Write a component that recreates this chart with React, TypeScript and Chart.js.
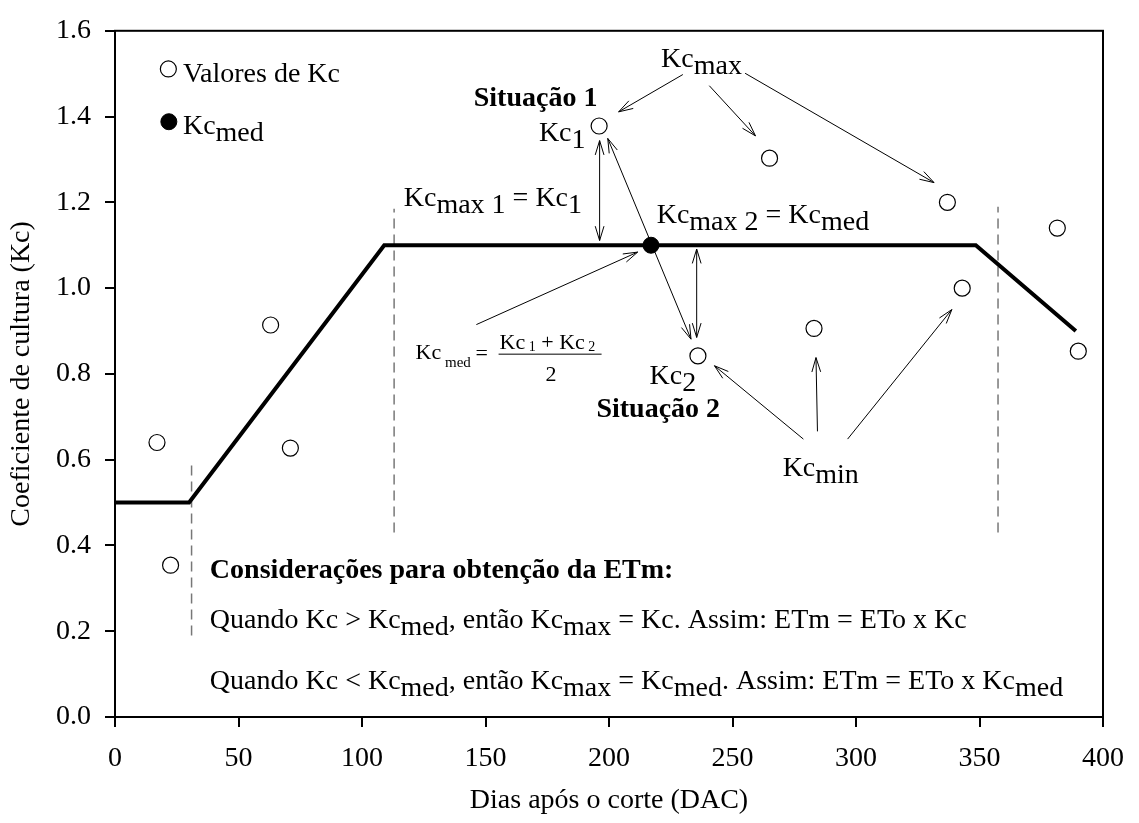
import React, { useEffect, useRef } from "react";
import { Chart, registerables } from "chart.js";

Chart.register(...registerables);

// ---------- data ----------
const kcDays = [17, 22.5, 63, 71, 196, 236, 265, 283, 337, 343, 381.5, 390];
const kcValues = [0.64, 0.354, 0.914, 0.627, 1.378, 0.842, 1.303, 0.906, 1.2, 1.0, 1.14, 0.853];
const kcMedDays = [217];
const kcMedValues = [1.1];
const curveDays = [0, 30, 109, 348.5, 389];
const curveKc = [0.5, 0.5, 1.1, 1.1, 0.9];
const stageDays = [31, 113, 357.5];
const stageLow = [0.19, 0.43, 0.43];
const stageHigh = [0.59, 1.185, 1.19];
const legendDays = [21.6, 21.8];
const legendKc = [1.511, 1.388];
const xMin = 0;
const xMax = 400;
const xStep = 50;
const yMin = 0;
const yMax = 1.6;
const yStep = 0.2;

const FONT = "'Liberation Serif', 'Times New Roman', Times, serif";

type Run = { t: string; sub?: boolean; bold?: boolean };
type Label = { x: number; y: number; align: "left" | "right"; runs: Run[] };

const labels: Label[] = [
  { x: 27.5, y: 1.48, align: "left", runs: [{ t: "Valores de Kc" }] },
  { x: 27.5, y: 1.36, align: "left", runs: [{ t: "Kc" }, { t: "med", sub: true }] },
  { x: 195.3, y: 1.425, align: "right", runs: [{ t: "Situação 1", bold: true }] },
  { x: 190.5, y: 1.342, align: "right", runs: [{ t: "Kc" }, { t: "1", sub: true }] },
  { x: 116.9, y: 1.192, align: "left", runs: [{ t: "Kc" }, { t: "max 1", sub: true }, { t: " = Kc" }, { t: "1", sub: true }] },
  { x: 219.3, y: 1.153, align: "left", runs: [{ t: "Kc" }, { t: "max 2", sub: true }, { t: " = Kc" }, { t: "med", sub: true }] },
  { x: 221.1, y: 1.515, align: "left", runs: [{ t: "Kc" }, { t: "max", sub: true }] },
  { x: 216.4, y: 0.777, align: "left", runs: [{ t: "Kc" }, { t: "2", sub: true }] },
  { x: 194.9, y: 0.699, align: "left", runs: [{ t: "Situação 2", bold: true }] },
  { x: 270.3, y: 0.5625, align: "left", runs: [{ t: "Kc" }, { t: "min", sub: true }] },
  { x: 38.4, y: 0.323, align: "left", runs: [{ t: "Considerações para obtenção da ETm:", bold: true }] },
  {
    x: 38.4, y: 0.2075, align: "left",
    runs: [{ t: "Quando Kc > Kc" }, { t: "med", sub: true }, { t: ", então Kc" }, { t: "max", sub: true }, { t: " = Kc. Assim: ETm = ETo x Kc" }],
  },
  {
    x: 38.4, y: 0.0646, align: "left",
    runs: [
      { t: "Quando Kc < Kc" }, { t: "med", sub: true }, { t: ", então Kc" }, { t: "max", sub: true },
      { t: " = Kc" }, { t: "med", sub: true }, { t: ". Assim: ETm = ETo x Kc" }, { t: "med", sub: true },
    ],
  },
];

const arrows = [
  { x1: 229.9, y1: 1.498, x2: 203.9, y2: 1.411, both: false },
  { x1: 240.6, y1: 1.472, x2: 259.3, y2: 1.355, both: false },
  { x1: 255.1, y1: 1.501, x2: 331.6, y2: 1.246, both: false },
  { x1: 196.2, y1: 1.344, x2: 196.2, y2: 1.111, both: true },
  { x1: 199.5, y1: 1.349, x2: 233.2, y2: 0.881, both: true },
  { x1: 146.3, y1: 0.915, x2: 211.6, y2: 1.084, both: false },
  { x1: 235.5, y1: 1.091, x2: 235.5, y2: 0.885, both: true },
  { x1: 278.7, y1: 0.648, x2: 242.7, y2: 0.819, both: false },
  { x1: 284.4, y1: 0.666, x2: 283.8, y2: 0.838, both: false },
  { x1: 296.6, y1: 0.648, x2: 338.8, y2: 0.95, both: false },
];

const formulaAnchor = { x: 155.3, y: 0.846 };

const ANN_SIZE = 28;
const TICK_SIZE = 28;
const TITLE_SIZE = 28;

function drawRuns(ctx: CanvasRenderingContext2D, runs: Run[], x: number, y: number, align: "left" | "right", size: number, subSize?: number, subDy?: number) {
  const widths = runs.map((r) => {
    const s = r.sub && subSize ? subSize : size;
    ctx.font = `${r.bold ? "bold " : ""}${s}px ${FONT}`;
    return ctx.measureText(r.t).width;
  });
  const total = widths.reduce((a, b) => a + b, 0);
  let cx = align === "right" ? x - total : x;
  ctx.textAlign = "left";
  ctx.textBaseline = "alphabetic";
  runs.forEach((r, i) => {
    const s = r.sub && subSize ? subSize : size;
    ctx.font = `${r.bold ? "bold " : ""}${s}px ${FONT}`;
    ctx.fillText(r.t, cx, y + (r.sub ? (subDy ?? 7) : 0));
    cx += widths[i];
  });
}

function arrowHead(ctx: CanvasRenderingContext2D, tx: number, ty: number, fx: number, fy: number) {
  const ang = Math.atan2(ty - fy, tx - fx);
  const len = 15;
  const spread = (17 * Math.PI) / 180;
  ctx.beginPath();
  ctx.moveTo(tx - len * Math.cos(ang - spread), ty - len * Math.sin(ang - spread));
  ctx.lineTo(tx, ty);
  ctx.lineTo(tx - len * Math.cos(ang + spread), ty - len * Math.sin(ang + spread));
  ctx.stroke();
}

const annotationPlugin = {
  id: "annotations",
  afterDatasetsDraw(chart: any) {
    const { ctx, chartArea, scales } = chart;
    const xs = scales.x;
    const ys = scales.y;
    ctx.save();
    // frame
    ctx.strokeStyle = "#000";
    ctx.lineWidth = 2;
    ctx.strokeRect(chartArea.left, chartArea.top, chartArea.right - chartArea.left, chartArea.bottom - chartArea.top);

    // arrows
    ctx.lineWidth = 1;
    ctx.strokeStyle = "#000";
    arrows.forEach((a) => {
      const x1 = xs.getPixelForValue(a.x1);
      const y1 = ys.getPixelForValue(a.y1);
      const x2 = xs.getPixelForValue(a.x2);
      const y2 = ys.getPixelForValue(a.y2);
      ctx.beginPath();
      ctx.moveTo(x1, y1);
      ctx.lineTo(x2, y2);
      ctx.stroke();
      arrowHead(ctx, x2, y2, x1, y1);
      if (a.both) arrowHead(ctx, x1, y1, x2, y2);
    });

    // labels
    ctx.fillStyle = "#000";
    labels.forEach((l) => {
      drawRuns(ctx, l.runs, xs.getPixelForValue(l.x), ys.getPixelForValue(l.y), l.align, ANN_SIZE);
    });

    // formula
    const fx = xs.getPixelForValue(formulaAnchor.x);
    const fy = ys.getPixelForValue(formulaAnchor.y);
    drawRuns(ctx, [{ t: "Kc" }, { t: " med", sub: true }], fx - 83, fy + 5, "left", 22, 15, 8);
    ctx.font = `22px ${FONT}`;
    ctx.fillText("=", fx - 23, fy + 6);
    drawRuns(ctx, [{ t: "Kc" }, { t: " 1", sub: true }, { t: " + Kc" }, { t: " 2", sub: true }], fx + 1, fy - 5, "left", 22, 14, 2);
    ctx.beginPath();
    ctx.lineWidth = 1;
    ctx.moveTo(fx, fy);
    ctx.lineTo(fx + 103, fy);
    ctx.stroke();
    ctx.font = `22px ${FONT}`;
    ctx.fillText("2", fx + 47, fy + 27);
    ctx.restore();
  },
};

export default function App() {
  const ref = useRef<HTMLCanvasElement | null>(null);
  useEffect(() => {
    if (!ref.current) return;
    const kcPoints = kcDays.map((d, i) => ({ x: d, y: kcValues[i] }));
    const medPoints = kcMedDays.map((d, i) => ({ x: d, y: kcMedValues[i] }));
    const curve = curveDays.map((d, i) => ({ x: d, y: curveKc[i] }));
    const stageSets = stageDays.map((d, i) => ({
      type: "line" as const,
      data: [{ x: d, y: stageLow[i] }, { x: d, y: stageHigh[i] }],
      borderColor: "#777",
      borderWidth: 1.5,
      borderDash: [10, 6],
      pointRadius: 0,
      fill: false,
      order: 20,
    }));
    const chart = new Chart(ref.current, {
      type: "scatter",
      data: {
        datasets: [
          {
            type: "line",
            data: curve,
            borderColor: "#000",
            borderWidth: 4,
            pointRadius: 0,
            fill: false,
            tension: 0,
            order: 10,
          } as any,
          ...stageSets,
          {
            data: kcPoints,
            pointRadius: 8,
            pointBackgroundColor: "#fff",
            pointBorderColor: "#000",
            pointBorderWidth: 1.2,
            order: 1,
          },
          {
            data: medPoints,
            pointRadius: 8,
            pointBackgroundColor: "#000",
            pointBorderColor: "#000",
            pointBorderWidth: 1,
            order: 1,
          },
          {
            data: [{ x: legendDays[0], y: legendKc[0] }],
            pointRadius: 8,
            pointBackgroundColor: "#fff",
            pointBorderColor: "#000",
            pointBorderWidth: 1.2,
            order: 1,
          },
          {
            data: [{ x: legendDays[1], y: legendKc[1] }],
            pointRadius: 8,
            pointBackgroundColor: "#000",
            pointBorderColor: "#000",
            pointBorderWidth: 1,
            order: 1,
          },
        ],
      },
      options: {
        animation: false,
        responsive: false,
        maintainAspectRatio: false,
        layout: { padding: { top: 23, right: 35, bottom: 0, left: 0 } },
        plugins: { legend: { display: false }, tooltip: { enabled: false } },
        scales: {
          x: {
            type: "linear",
            min: xMin,
            max: xMax,
            afterFit: (s: any) => {
              s.height = 106;
            },
            ticks: {
              stepSize: xStep,
              color: "#000",
              font: { family: FONT, size: TICK_SIZE },
              padding: 15,
              maxRotation: 0,
            },
            grid: { drawOnChartArea: false, color: "#000", lineWidth: 2, tickLength: 10 },
            border: { display: true, color: "#000", width: 2 },
            title: {
              display: true,
              text: "Dias após o corte (DAC)",
              color: "#000",
              font: { family: FONT, size: TITLE_SIZE },
              padding: { top: 0, bottom: 6 },
            },
          },
          y: {
            type: "linear",
            min: yMin,
            max: yMax,
            afterFit: (s: any) => {
              s.width = 115;
            },
            ticks: {
              stepSize: yStep,
              color: "#000",
              font: { family: FONT, size: TICK_SIZE },
              padding: 14,
              callback: (v: any) => Number(v).toFixed(1),
            },
            grid: { drawOnChartArea: false, color: "#000", lineWidth: 2, tickLength: 10 },
            border: { display: true, color: "#000", width: 2 },
            title: {
              display: true,
              text: "Coeficiente de cultura (Kc)",
              color: "#000",
              font: { family: FONT, size: TITLE_SIZE },
              padding: { top: 5, bottom: 0 },
            },
          },
        },
      },
      plugins: [annotationPlugin],
    });
    return () => chart.destroy();
  }, []);
  return (
    <div style={{ position: "absolute", left: 0, top: 0, width: 1139, height: 823, background: "#fff" }}>
      <canvas ref={ref} width={1139} height={823} style={{ width: 1139, height: 823 }} />
    </div>
  );
}
